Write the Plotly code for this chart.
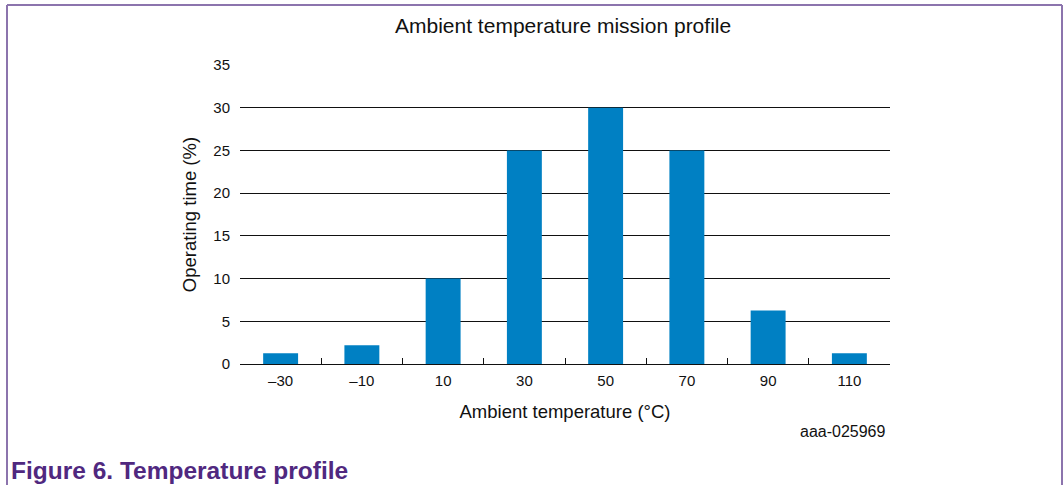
import plotly.graph_objects as go

categories = ["–30", "–10", "10", "30", "50", "70", "90", "110"]
operating_time = [1.25, 2.2, 10, 25, 30, 25, 6.25, 1.25]
y_ticks = [0, 5, 10, 15, 20, 25, 30, 35]

W, H = 1064, 485
L, R, T, B = 240, 890, 65, 364

def px(x):
    return (x - L) / (R - L)

def py(y):
    return (B - y) / (B - T)

fig = go.Figure()
fig.add_trace(go.Bar(x=categories, y=operating_time, marker=dict(color="#0080c3", line=dict(width=0)),
                     hoverinfo="x+y"))

FONT = "Liberation Sans, Arial, sans-serif"
frame = "#8c74ad"

fig.update_layout(
    width=W, height=H,
    margin=dict(l=L, r=W - R, t=T, b=H - B, pad=0),
    paper_bgcolor="white", plot_bgcolor="white",
    showlegend=False,
    bargap=0.57,
    font=dict(family=FONT, size=15, color="#111"),
    xaxis=dict(
        type="category", showgrid=False, showline=True, linecolor="#111", linewidth=1,
        ticks="inside", tickson="boundaries", ticklen=6, tickcolor="#111",
        tickfont=dict(size=15), zeroline=False, ticklabelstandoff=3,
        title=dict(text="Ambient temperature (°C)", font=dict(size=18.5), standoff=17),
    ),
    yaxis=dict(
        range=[0, 35], tickvals=y_ticks, showgrid=True, gridcolor="#111", gridwidth=1,
        zeroline=False, showline=False, ticks="", ticklabelstandoff=9,
        tickfont=dict(size=15),
        title=dict(text="Operating time (%)", font=dict(size=18.5), standoff=11),
    ),
    shapes=[
        dict(type="line", xref="paper", yref="paper", x0=px(7), x1=px(1062), y0=py(5), y1=py(5),
             line=dict(color=frame, width=2)),
        dict(type="line", xref="paper", yref="paper", x0=px(7), x1=px(7), y0=py(5), y1=py(485),
             line=dict(color=frame, width=2)),
        dict(type="line", xref="paper", yref="paper", x0=px(1062), x1=px(1062), y0=py(5), y1=py(485),
             line=dict(color=frame, width=2)),
    ],
    annotations=[
        dict(text="Ambient temperature mission profile", xref="paper", yref="paper",
             x=px(563), y=py(25), showarrow=False, font=dict(size=21, color="#111"),
             xanchor="center", yanchor="middle"),
        dict(text="aaa-025969", xref="paper", yref="paper", x=px(888), y=py(431),
             showarrow=False, font=dict(size=16, color="#111"), xanchor="right", yanchor="middle"),
        dict(text="<b>Figure 6. Temperature profile</b>", xref="paper", yref="paper",
             x=px(9), y=py(470), showarrow=False, font=dict(size=24.5, color="#50287f"),
             xanchor="left", yanchor="middle"),
    ],
)

fig.write_html("out.html", config={"displayModeBar": False},
               post_script="document.body.style.margin='0';document.body.style.overflow='hidden';")
